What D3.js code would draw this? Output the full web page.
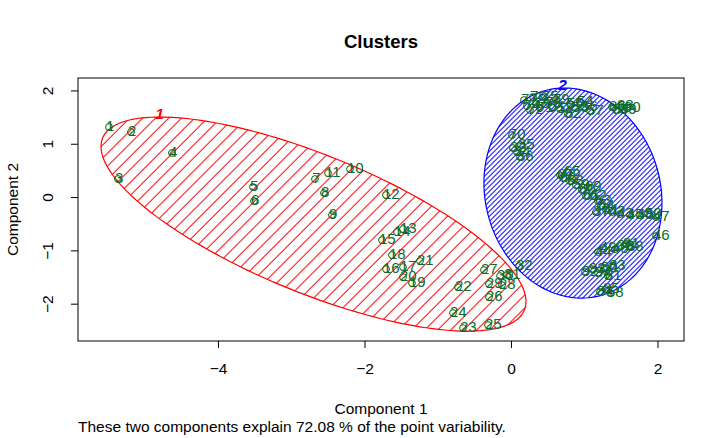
<!DOCTYPE html>
<html><head><meta charset="utf-8">
<script src="https://cdn.jsdelivr.net/npm/d3@7"></script>
<style>body{margin:0;background:#fff}text{font-family:"Liberation Sans",Arial,sans-serif}</style>
</head><body>
<script>
// ---- data ----
const title = "Clusters";
const xLabel = "Component 1";
const yLabel = "Component 2";
const subtitle = "These two components explain 72.08 % of the point variability.";
const xTicks = [-4, -2, 0, 2];
const yTicks = [-2, -1, 0, 1, 2];
const pointLabels = [
  "1","2","3","4","5","6","7","8","9","10","11","12","13","14","15","16",
  "17","18","19","20","21","22","23","24","25","26","27","28","29","30","31","32",
  "77","74","72","76","73","71","75","78","51","79","52","55","53","54","56","57","82",
  "86","87","88","89","90",
  "70",
  "33","34","35","36",
  "66","65","67","68",
  "59","60","69","61","62","63","64","37","41","42","43","45","48","50","47",
  "46",
  "44","49","40","39","91","38",
  "92","93","94","80","81","83","84","85","58"
];
const pointX = [
  -5.488,-5.188,-5.365,-4.628,-3.522,-3.509,-2.676,-2.553,-2.444,-2.198,-2.498,-1.706,-1.474,-1.556,-1.761,-1.706,
  -1.474,-1.625,-1.352,-1.474,-1.242,-0.724,-0.655,-0.792,-0.314,-0.300,-0.369,-0.123,-0.300,-0.150,-0.055,0.109,
  0.177,0.218,0.259,0.300,0.341,0.396,0.464,0.505,0.560,0.614,0.669,0.805,0.874,0.942,0.997,1.078,0.778,
  1.379,1.433,1.488,1.529,1.584,
  0.014,
  0.027,0.082,0.137,0.123,
  0.710,0.765,0.669,0.805,
  0.887,0.969,1.051,1.024,1.119,1.188,1.229,1.160,1.297,1.379,1.488,1.625,1.761,1.870,1.980,
  1.980,
  1.188,1.256,1.420,1.488,1.570,1.625,
  1.010,1.106,1.188,1.270,1.324,1.379,1.215,1.297,1.352
];
const pointY = [
  1.313,1.220,0.338,0.826,0.188,-0.075,0.338,0.075,-0.338,0.525,0.450,0.038,-0.600,-0.657,-0.807,-1.351,
  -1.313,-1.088,-1.613,-1.501,-1.201,-1.689,-2.458,-2.176,-2.402,-1.876,-1.370,-1.651,-1.632,-1.482,-1.463,-1.295,
  1.820,1.707,1.632,1.876,1.745,1.670,1.876,1.764,1.689,1.820,1.651,1.745,1.670,1.782,1.689,1.614,1.557,
  1.689,1.632,1.707,1.632,1.670,
  1.163,
  0.919,0.844,0.976,0.750,
  0.356,0.469,0.413,0.300,
  0.225,0.131,0.188,0.019,0.019,-0.075,-0.169,-0.281,-0.244,-0.281,-0.319,-0.338,-0.338,-0.319,-0.375,
  -0.732,
  -1.032,-0.957,-0.976,-0.919,-0.882,-0.938,
  -1.407,-1.351,-1.426,-1.332,-1.482,-1.295,-1.782,-1.726,-1.801
];
// cluster ellipses: x = cx + a*cos t ; y = cy + b*cos t + c*sin t  (data units)
const clusterNames = ["1", "2"];
const clusterCx = [-2.696, 0.846];
const clusterCy = [-0.507, 0.075];
const clusterA  = [2.901, 1.215];
const clusterB  = [-1.454, -0.188];
const clusterC  = [1.385, 1.961];
const clusterColors = ["#ff0000", "#0000ff"];
const clusterHatch = [13, 5]; // horizontal spacing of shading lines (px)

// ---- layout ----
const W = 724, H = 438;
const box = {left: 78, right: 684, top: 78, bottom: 341};
const x = d3.scaleLinear().domain([-5.911, 2.362]).range([box.left, box.right]);
const y = d3.scaleLinear().domain([-2.70, 2.233]).range([box.bottom, box.top]);
const FS = 15.5;

const svg = d3.select("body").append("svg").attr("width", W).attr("height", H);
const defs = svg.append("defs");
defs.append("clipPath").attr("id", "plotclip").append("rect")
  .attr("x", box.left).attr("y", box.top).attr("width", box.right - box.left).attr("height", box.bottom - box.top);

const g = svg.append("g").attr("clip-path", "url(#plotclip)");

// ellipses
clusterNames.forEach((name, i) => {
  const pts = d3.range(0, 361, 2).map(deg => {
    const t = deg * Math.PI / 180;
    return [x(clusterCx[i] + clusterA[i] * Math.cos(t)),
            y(clusterCy[i] + clusterB[i] * Math.cos(t) + clusterC[i] * Math.sin(t))];
  });
  const sp = clusterHatch[i] / Math.SQRT2;
  const pat = defs.append("pattern").attr("id", "hatch" + i)
    .attr("patternUnits", "userSpaceOnUse").attr("width", sp).attr("height", sp)
    .attr("patternTransform", "rotate(45)");
  pat.append("line").attr("x1", 0.5).attr("y1", -1).attr("x2", 0.5).attr("y2", sp + 1)
    .attr("stroke", clusterColors[i]).attr("stroke-width", 1);
  g.append("path").attr("d", d3.line()(pts) + "Z")
    .attr("fill", "url(#hatch" + i + ")").attr("stroke", clusterColors[i]).attr("stroke-width", 1.2);
  // label at topmost point
  const top = pts.reduce((a, b) => (b[1] < a[1] ? b : a));
  svg.append("text").attr("x", top[0] - 1).attr("y", top[1] + 2)
    .attr("text-anchor", "middle").attr("font-size", FS).attr("font-weight", "bold")
    .attr("font-style", "italic").attr("fill", clusterColors[i]).text(name);
});

// points
const pg = svg.append("g");
pointLabels.forEach((lab, i) => {
  pg.append("circle").attr("cx", x(pointX[i])).attr("cy", y(pointY[i])).attr("r", 3.4)
    .attr("fill", "none").attr("stroke", "#006400").attr("stroke-width", 1);
});
pointLabels.forEach((lab, i) => {
  pg.append("text").attr("x", x(pointX[i]) - 3).attr("y", y(pointY[i]) + 3.5)
    .attr("font-size", 15).attr("fill", "#0b6a2e").text(lab);
});

// box
svg.append("rect").attr("x", box.left).attr("y", box.top)
  .attr("width", box.right - box.left).attr("height", box.bottom - box.top)
  .attr("fill", "none").attr("stroke", "#000").attr("stroke-width", 1);

// axes
const xa = svg.append("g").attr("transform", `translate(0,${box.bottom})`)
  .call(d3.axisBottom(x).tickValues(xTicks).tickSize(7).tickPadding(15).tickFormat(d3.format("d")));
xa.select(".domain").remove();
xa.selectAll("text").attr("font-size", FS).attr("fill", "#000").attr("font-family", "Liberation Sans, Arial, sans-serif");
xa.selectAll("line").attr("stroke", "#000");

const ya = svg.append("g").attr("transform", `translate(${box.left},0)`)
  .call(d3.axisLeft(y).tickValues(yTicks).tickSize(7).tickFormat(d3.format("d")));
ya.select(".domain").remove();
ya.selectAll("line").attr("stroke", "#000");
ya.selectAll("text").attr("font-size", FS).attr("fill", "#000").attr("font-family", "Liberation Sans, Arial, sans-serif")
  .attr("x", null).attr("dy", null)
  .attr("transform", "translate(-31,0) rotate(-90)").attr("text-anchor", "middle").attr("dominant-baseline", "central");

// titles
svg.append("text").attr("x", (box.left + box.right) / 2).attr("y", 48).attr("text-anchor", "middle")
  .attr("font-size", 18.5).attr("font-weight", "bold").text(title);
svg.append("text").attr("x", (box.left + box.right) / 2).attr("y", 414).attr("text-anchor", "middle")
  .attr("font-size", FS).text(xLabel);
svg.append("text").attr("transform", `translate(18,${(box.top + box.bottom) / 2}) rotate(-90)`)
  .attr("text-anchor", "middle").attr("font-size", FS).text(yLabel);
svg.append("text").attr("x", box.left).attr("y", 432).attr("font-size", FS).text(subtitle);
</script>
</body></html>
